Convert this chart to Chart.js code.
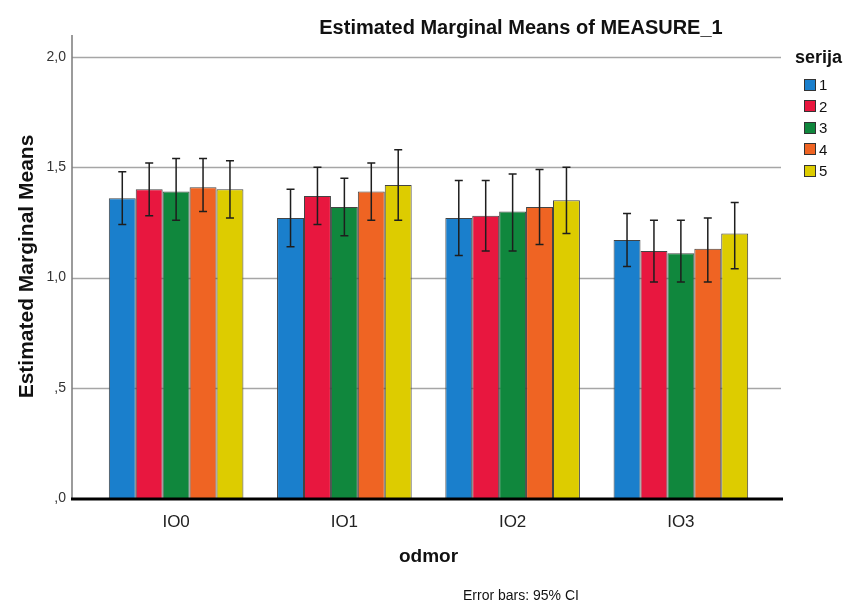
<!DOCTYPE html>
<html>
<head>
<meta charset="utf-8">
<script src="https://cdn.jsdelivr.net/npm/chart.js@4.4.1/dist/chart.umd.min.js"></script>
<style>
    body { margin: 0; background: #fff; }
    #wrap { position: relative; width: 847px; height: 606px; font-family: "Liberation Sans", Arial, sans-serif; color: #111; }
    #chart { position: absolute; left: 0; top: 0; }
    .txt { position: absolute; white-space: nowrap; }
    #title { left: 311px; top: 16px; width: 420px; text-align: center; font-weight: bold; font-size: 20px; }
    #note { left: 421px; top: 587px; width: 200px; text-align: center; font-size: 14px; }
    #legend { left: 795px; top: 47px; }
    #legend .head { font-weight: bold; font-size: 18px; margin-bottom: 6px; }
    #legend .item { display: flex; align-items: center; height: 21.5px; margin-left: 9px; font-size: 15px; }
    #legend .box { width: 10px; height: 10px; border: 1px solid #333; margin-right: 3px; }
</style>
</head>
<body>
<div id="wrap">
    <canvas id="chart" width="847" height="606"></canvas>
    <div id="title" class="txt">Estimated Marginal Means of MEASURE_1</div>
    <div id="legend" class="txt"></div>
    <div id="note" class="txt">Error bars: 95% CI</div>
</div>
<script>
// kategorije (odmor) i serije
const categories = ["IO0", "IO1", "IO2", "IO3"];
const seriesNames = ["1", "2", "3", "4", "5"];
const seriesColors = ["#1a7fcc", "#e8173f", "#10873d", "#ef6423", "#ddcc00"];

// procijenjene sredine
const mean1 = [1.36, 1.27, 1.27, 1.17];
const mean2 = [1.40, 1.37, 1.28, 1.12];
const mean3 = [1.39, 1.32, 1.30, 1.11];
const mean4 = [1.41, 1.39, 1.32, 1.13];
const mean5 = [1.40, 1.42, 1.35, 1.20];

// 95% CI granice
const low1 = [1.24, 1.14, 1.10, 1.05];
const low2 = [1.28, 1.24, 1.12, 0.98];
const low3 = [1.26, 1.19, 1.12, 0.98];
const low4 = [1.30, 1.26, 1.15, 0.98];
const low5 = [1.27, 1.26, 1.20, 1.04];
const high1 = [1.48, 1.40, 1.44, 1.29];
const high2 = [1.52, 1.50, 1.44, 1.26];
const high3 = [1.54, 1.45, 1.47, 1.26];
const high4 = [1.54, 1.52, 1.49, 1.27];
const high5 = [1.53, 1.58, 1.50, 1.34];

// y os
const yTickValues = [0, 0.5, 1, 1.5, 2];
const yTickLabels = [",0", ",5", "1,0", "1,5", "2,0"];
const yMax = 2.1;

const means = [mean1, mean2, mean3, mean4, mean5];
const lows = [low1, low2, low3, low4, low5];
const highs = [high1, high2, high3, high4, high5];

const FONT = '"Liberation Sans", Arial, sans-serif';

// legenda
const legend = document.getElementById("legend");
legend.innerHTML = '<div class="head">serija</div>';
seriesNames.forEach((name, i) => {
    const item = document.createElement("div");
    item.className = "item";
    item.innerHTML = `<span class="box" style="background:${seriesColors[i]}"></span>${name}`;
    legend.appendChild(item);
});

// mreza, osi i error bars
const frame = {
    id: "frame",
    beforeDatasetsDraw(chart) {
        const { ctx, chartArea, scales: { y } } = chart;
        const x0 = chartArea.left - 20, x1 = chartArea.right + 16;
        ctx.save();
        ctx.strokeStyle = "#a6a6a6";
        ctx.lineWidth = 1.5;
        yTickValues.forEach(v => {
            if (v === 0) return;
            const py = Math.round(y.getPixelForValue(v)) + 0.5;
            ctx.beginPath(); ctx.moveTo(x0, py); ctx.lineTo(x1, py); ctx.stroke();
        });
        ctx.strokeStyle = "#7a7a7a";
        ctx.beginPath();
        ctx.moveTo(x0, y.getPixelForValue(yMax));
        ctx.lineTo(x0, y.getPixelForValue(0));
        ctx.stroke();
        ctx.restore();
    },
    afterDatasetsDraw(chart) {
        const { ctx, chartArea, scales: { y } } = chart;
        ctx.save();
        ctx.strokeStyle = "#1e1e1e";
        ctx.lineWidth = 1.5;
        chart.data.datasets.forEach((ds, i) => {
            chart.getDatasetMeta(i).data.forEach((bar, j) => {
                const top = y.getPixelForValue(ds.high[j]);
                const bot = y.getPixelForValue(ds.low[j]);
                ctx.beginPath();
                ctx.moveTo(bar.x, top); ctx.lineTo(bar.x, bot);
                ctx.moveTo(bar.x - 4, top); ctx.lineTo(bar.x + 4, top);
                ctx.moveTo(bar.x - 4, bot); ctx.lineTo(bar.x + 4, bot);
                ctx.stroke();
            });
        });
        // donja os
        const py = y.getPixelForValue(0);
        ctx.strokeStyle = "#000";
        ctx.lineWidth = 3;
        ctx.beginPath();
        ctx.moveTo(chartArea.left - 21, py + 1);
        ctx.lineTo(chartArea.right + 18, py + 1);
        ctx.stroke();
        ctx.restore();
    }
};

new Chart(document.getElementById("chart").getContext("2d"), {
    type: "bar",
    data: {
        labels: categories,
        datasets: seriesNames.map((name, i) => ({
            label: name,
            data: means[i],
            low: lows[i],
            high: highs[i],
            backgroundColor: seriesColors[i],
            borderColor: "#444",
            borderWidth: 1,
            categoryPercentage: 0.8,
            barPercentage: 1.0
        }))
    },
    options: {
        responsive: false,
        animation: false,
        devicePixelRatio: 1,
        layout: { padding: { left: 0, right: 82, top: 35, bottom: 0 } },
        plugins: { legend: { display: false }, tooltip: { enabled: false } },
        scales: {
            x: {
                grid: { display: false, drawTicks: false },
                border: { display: false },
                ticks: { color: "#222", padding: 14, font: { family: FONT, size: 17 } },
                title: { display: true, text: "odmor", color: "#111", padding: { top: 0, bottom: 38 }, font: { family: FONT, size: 19, weight: "bold" } },
                afterFit: s => { s.height = 108; }
            },
            y: {
                min: 0,
                max: yMax,
                grid: { display: false, drawTicks: false },
                border: { display: false },
                afterBuildTicks: s => { s.ticks = yTickValues.map(v => ({ value: v })); },
                ticks: {
                    color: "#333",
                    padding: 26,
                    font: { family: FONT, size: 14 },
                    callback: v => yTickLabels[yTickValues.indexOf(v)]
                },
                title: { display: true, text: "Estimated Marginal Means", color: "#111", padding: { top: 15, bottom: 0 }, font: { family: FONT, size: 21, weight: "bold" } },
                afterFit: s => { s.width = 92; }
            }
        }
    },
    plugins: [frame]
});
</script>
</body>
</html>
